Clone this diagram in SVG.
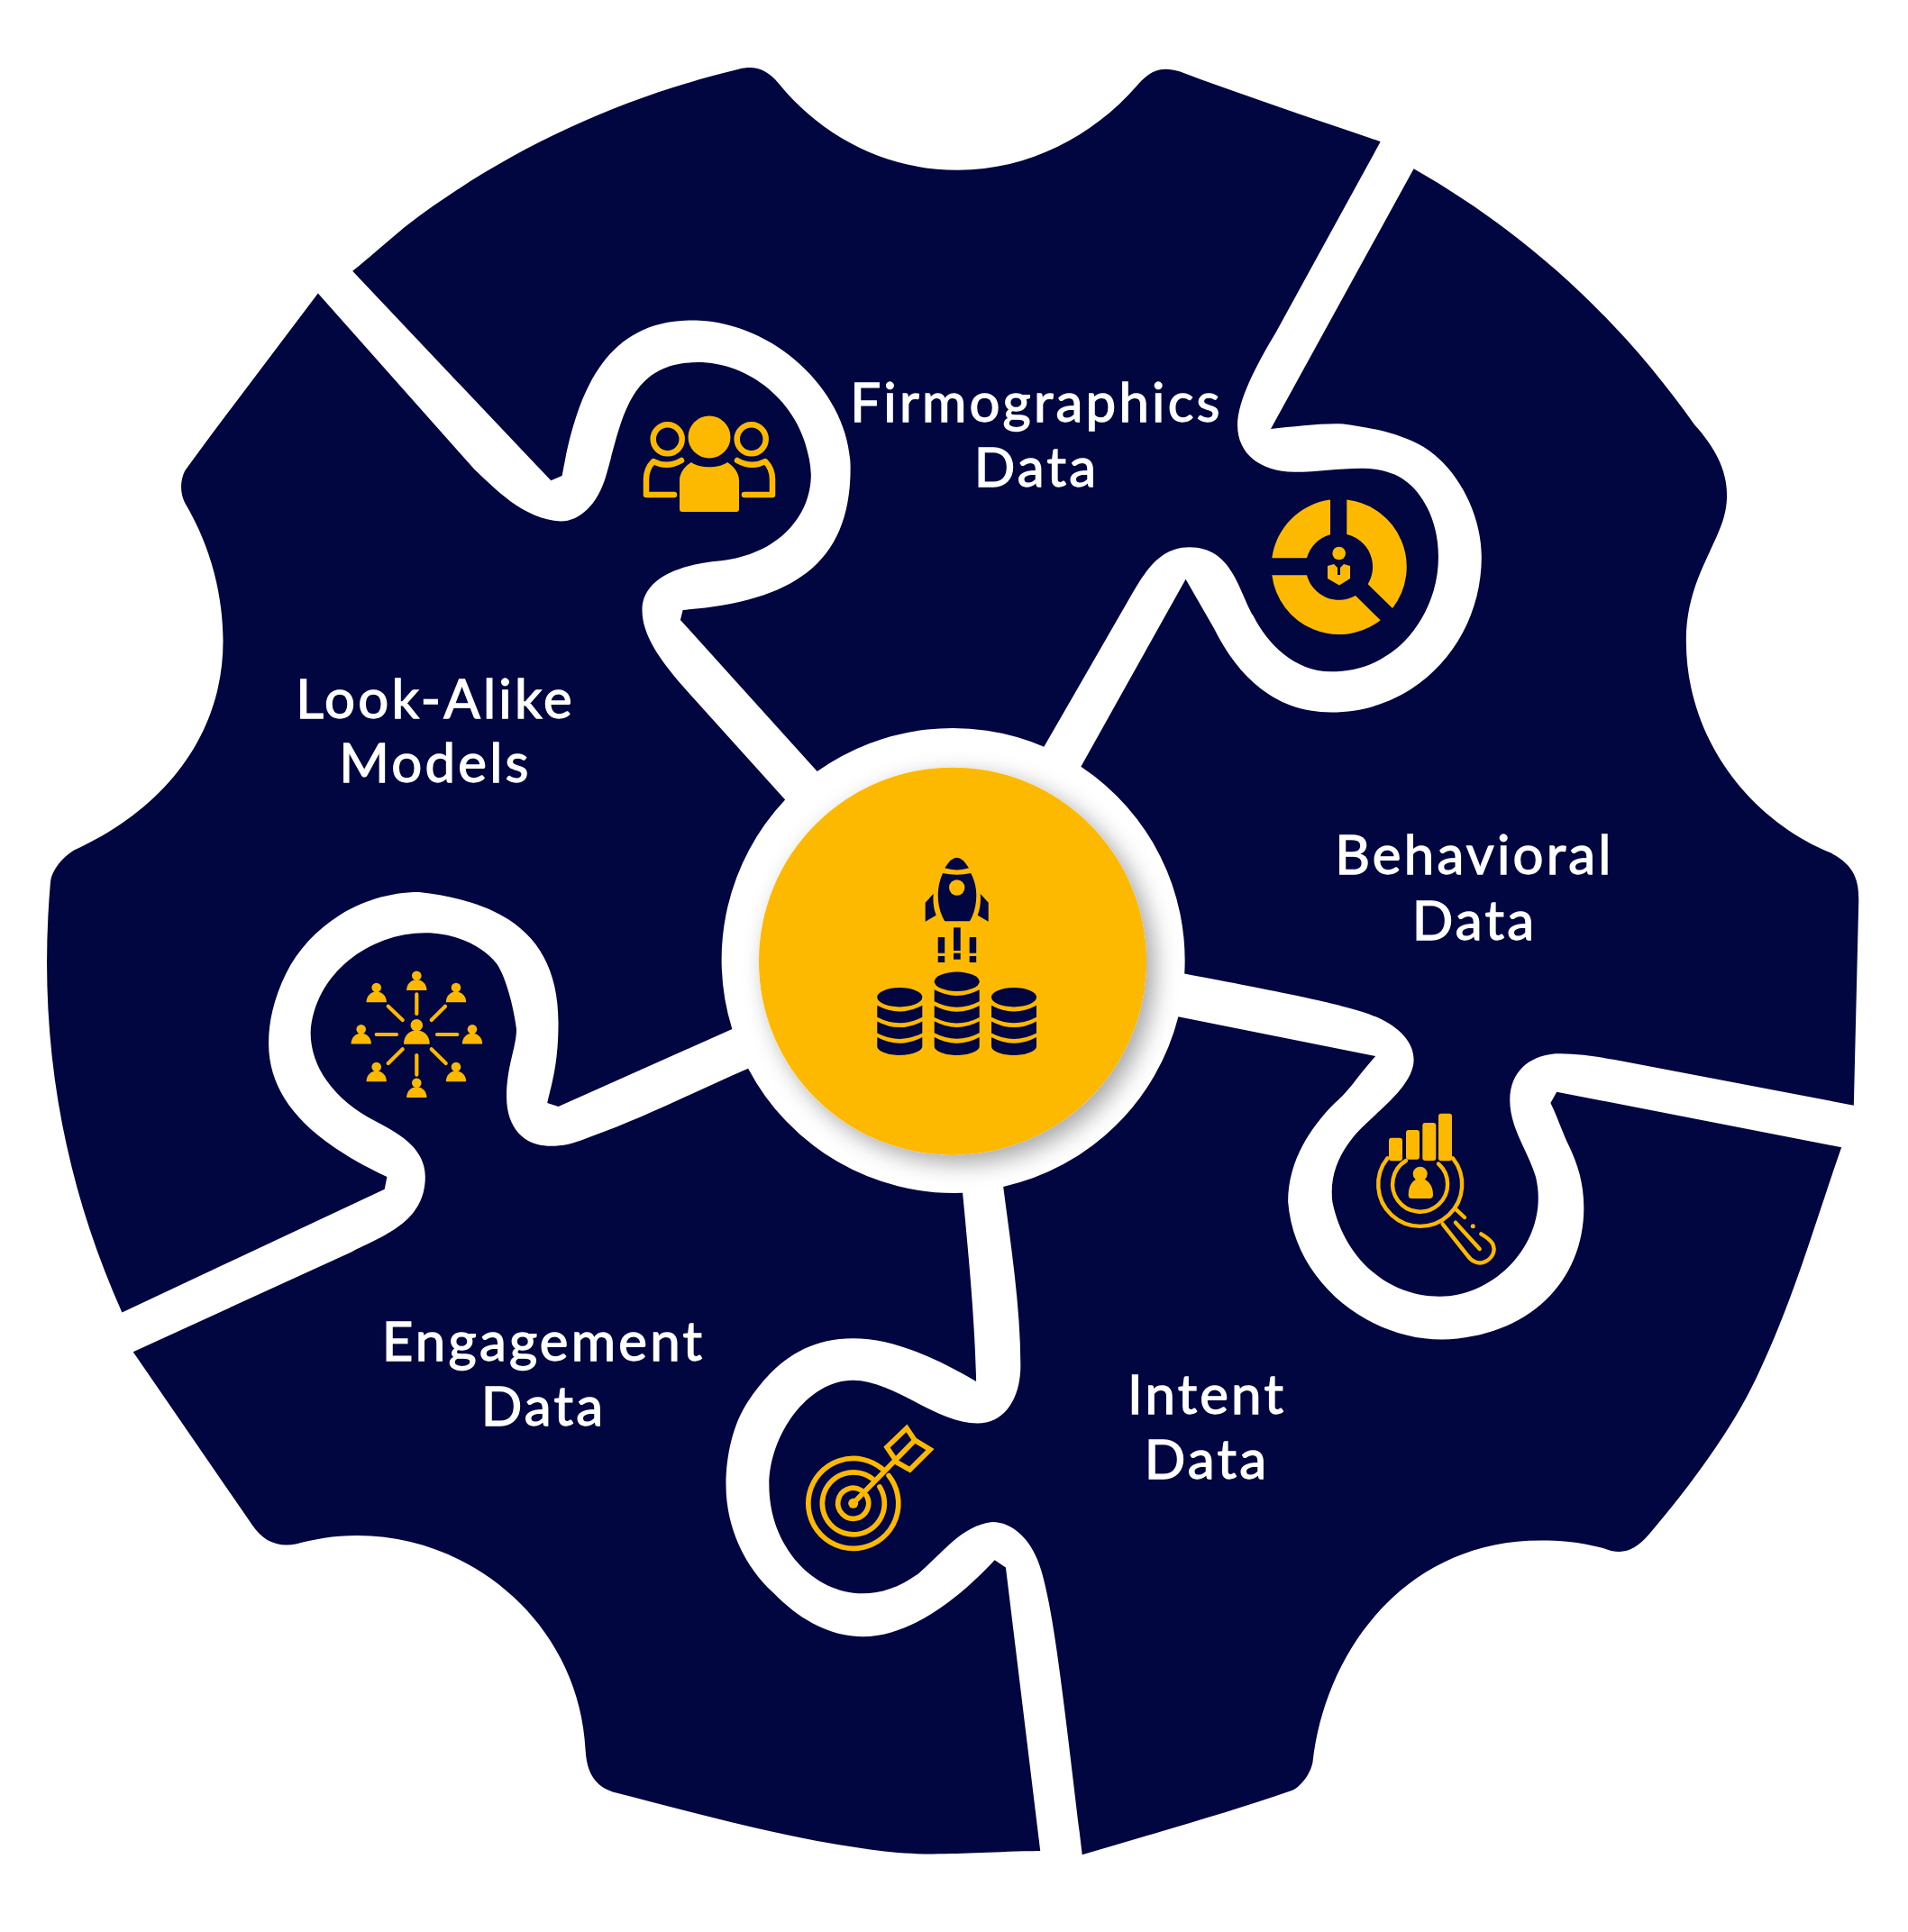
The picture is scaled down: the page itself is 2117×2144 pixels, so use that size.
<svg xmlns="http://www.w3.org/2000/svg" width="2117" height="2144" viewBox="0 0 2117 2144">
<style>
.piece{fill:#010641}
.label{font-family:"Lato","Liberation Sans",sans-serif;font-size:60px;font-weight:400;fill:#fff;stroke:#fff;stroke-width:1.3px;text-anchor:middle;letter-spacing:3.2px}
.y{fill:#fdb900}
.n{fill:#010641}
.ys{fill:none;stroke:#fdb900;stroke-width:5.7;stroke-linecap:round;stroke-linejoin:miter}
</style>
<defs>
<filter id="sh" x="-20%" y="-20%" width="150%" height="150%"><feDropShadow dx="9" dy="9" stdDeviation="13" flood-color="#000" flood-opacity="0.35"/></filter>
<path id="band" d="M-25,0Q0,13.4 25,0V13Q0,26 -25,13Z"/>
<path id="bandb" d="M-25,0Q0,13.4 25,0V10C25,16 12,20 0,20C-12,20 -25,16 -25,10Z"/>
<g id="p"><circle cx="0" cy="0" r="5.3"/><path d="M-11.2,16.3C-11.2,9 -6,4.5 0,4.5C6,4.5 11.2,9 11.2,16.3Z"/></g>
</defs>
<rect width="2117" height="2144" fill="#fff"/>

<g id="node-firmographics">
<path class="piece" transform="scale(1.36757)" d="M286,220C300,209 315,195 330,183C410,122 500,80 600,56C612,53 622,56 632,68C668,112 720,138 777,138C835,138 887,110 922,70C934,56 943,54 957,58C1010,78 1065,96 1120,115L1035,270C1020,295 1004,325 1004,345C1004,370 1025,383 1050,383C1070,383 1085,380 1105,380C1130,380 1147,390 1158,412C1163,422 1167,435 1167,452C1167,490 1145,520 1125,532C1110,542 1095,545 1080,545C1050,545 1028,522 1017,500C1005,480 1000,444 965,444C940,444 928,465 915,488L847,606A189,189 0 0 0 663,626L552,503L554,495C640,488 690,460 690,380C690,320 630,262 565,260C490,258 468,320 456,386L447,390Z"/>
<text class="label" x="1150" y="468">Firmographics</text>
<text class="label" x="1150" y="540">Data</text>
<g class="y">
<path d="M1476,554.6A75,75 0 0 0 1411.3,619.3H1450A37,37 0 0 1 1476,593.3Z"/>
<path d="M1494.3,554.5A75,75 0 0 1 1545,675L1517.7,648.3A37,37 0 0 0 1494.3,593Z"/>
<path d="M1411.3,638.3A75,75 0 0 0 1531.7,688.3L1504,661A37,37 0 0 1 1450,638.3Z"/>
<circle cx="1485.7" cy="614" r="7.3"/>
<path d="M1473,628L1480,626L1484,630V638H1487V630L1491,626L1498,628V642L1486,649.5L1473,642Z"/>
</g>
</g>

<g id="node-lookalike">
<path class="piece" transform="scale(1.36757)" d="M258,238C222,286 185,334 150,382C146,390 146,400 150,408C172,445 181,485 181,520C181,595 135,656 60,690C50,696 42,707 41,715C30,840 50,955 99,1065L312,965L314,955C250,925 217,890 218,845C218,830 222,810 232,790C252,750 295,724 340,724C410,732 453,760 453,830C453,860 449,875 444,895L453,898L594,835A189,189 0 0 1 637,649L555,558C535,535 521,515 521,495C521,470 550,458 585,455C630,450 658,420 658,385C655,330 610,294 566,294C510,294 505,340 492,385C485,410 470,423 455,423C425,422 400,395 385,381Z"/>
<text class="label" x="483" y="797">Look-Alike</text>
<text class="label" x="483" y="868">Models</text>
<g class="y">
<circle cx="787" cy="485" r="23.5"/>
<path d="M754,565V533C754,525 760,517 767,513C776,520 798,520 807,513C814,517 820,525 820,533V565Q820,568 817,568H757Q754,568 754,565Z"/>
</g>
<g class="ys" style="stroke-width:6.5">
<circle cx="740.7" cy="487.3" r="16"/><circle cx="833.7" cy="487.3" r="16"/>
<path stroke-linejoin="round" d="M756,511Q740,520 725,512Q717,520 717,532V549H748M818,511Q834,520 849,512Q857,520 857,532V549H826"/>
</g>
</g>

<g id="node-engagement">
<path class="piece" transform="scale(1.36757)" d="M108,1097L285,1016C310,1003 345,992 345,955C345,930 320,918 305,910C270,892 252,865 252,838C255,790 300,757 345,757C370,757 392,768 403,782C412,795 418,825 419,835C419,850 411,865 411,890C411,915 425,930 447,930C460,930 470,926 480,922C525,906 565,885 607,867A189,189 0 0 0 781,968C785,1010 791,1070 792,1121C760,1102 725,1086 692,1086C650,1086 625,1110 607,1137C595,1155 589,1180 589,1205C589,1240 605,1272 627,1292C650,1316 675,1328 700,1328C740,1328 780,1295 807,1266L816,1272L844,1502C780,1503 750,1508 700,1500C630,1490 560,1470 497,1454C480,1448 476,1435 475,1420C470,1320 385,1246 290,1246C270,1246 255,1249 240,1253C225,1256 213,1250 205,1238Z"/>
<text class="label" x="603" y="1510">Engagement</text>
<text class="label" x="603" y="1582">Data</text>
<g class="y">
<use href="#p" x="462.3" y="1082.7"/><use href="#p" x="417.7" y="1096"/><use href="#p" x="506" y="1096"/><use href="#p" x="400.7" y="1142.3"/><use href="#p" x="524" y="1142.3"/><use href="#p" x="417.7" y="1184"/><use href="#p" x="506" y="1184"/><use href="#p" x="462.3" y="1201.7"/>
<circle cx="462.3" cy="1137.7" r="6.8"/><path d="M448,1158.7C448,1149 454,1143.5 462.3,1143.5C470.5,1143.5 476.7,1149 476.7,1158.7Z"/>
</g>
<path class="ys" style="stroke-width:4.2" d="M462.3,1103.3V1125M462.3,1171V1192.7M417.7,1148H440M485,1148H507.3M430.7,1116.7L446.7,1132M494,1116.7L478.7,1132M446.7,1164.3L430.7,1180M478.7,1164.3L494.7,1180"/>
</g>

<g id="node-intent">
<path class="piece" transform="scale(1.36757)" d="M1494,931C1470,1000 1455,1055 1425,1118C1405,1160 1372,1205 1338,1245C1325,1260 1315,1262 1300,1256C1280,1251 1265,1250 1250,1250C1140,1250 1075,1340 1065,1430C1063,1440 1055,1450 1048,1453C990,1473 935,1488 878,1505C862,1370 855,1310 845,1275C838,1250 822,1235 805,1235C780,1238 765,1260 745,1277C730,1288 715,1293 700,1293C660,1293 624,1255 624,1205C624,1165 655,1120 692,1120C725,1120 760,1155 793,1155C815,1155 828,1135 828,1108C828,1060 820,1010 814,963A189,189 0 0 0 956,825L1116,857C1100,875 1095,885 1083,895C1060,918 1045,945 1045,975C1050,1040 1110,1087 1170,1087C1240,1085 1285,1040 1285,980C1285,960 1280,945 1273,930C1268,920 1263,905 1258,895L1263,886Z"/>
<text class="label" x="1339" y="1569">Intent</text>
<text class="label" x="1339" y="1641">Data</text>
<g class="ys">
<path d="M978.8,1630A50,50 0 1 0 986.1,1637.5"/>
<path d="M967.9,1641.1A34.5,34.5 0 1 0 976,1650"/>
<path d="M955.2,1653.6A17,17 0 1 0 961.4,1659.8"/>
<path d="M946.7,1668.3L1015,1598.3"/>
<path d="M984,1606L1006,1585L1015,1598.3L1032,1608.5L1009.5,1631L995.5,1623Z"/>
</g>
<circle class="y" cx="946.7" cy="1668.3" r="5.5"/>
</g>

<g id="node-behavioral">
<path class="piece" transform="scale(1.36757)" d="M1147,137C1240,190 1315,260 1375,345C1395,367 1410,395 1395,430C1385,455 1368,480 1368,520C1368,600 1420,665 1485,692C1505,702 1508,715 1508,730L1504,897L1310,860C1290,856 1275,855 1262,855C1240,857 1225,870 1225,893C1225,915 1240,935 1246,955C1258,1005 1215,1052 1168,1052C1125,1052 1090,1020 1081,975C1078,950 1090,930 1105,915C1120,900 1147,880 1147,860C1147,840 1125,827 1105,821C1080,813 1040,805 961,790A189,189 0 0 0 877,622L962,470L985,510C1005,550 1035,578 1080,578C1150,578 1202,520 1202,452C1202,415 1180,375 1150,360C1130,350 1110,347 1090,344C1075,343 1050,346 1031,348Z"/>
<text class="label" x="1636" y="970">Behavioral</text>
<text class="label" x="1636" y="1043">Data</text>
<g class="ys" style="stroke-width:4.4">
<path d="M1539.4,1285.3A46.5,46.5 0 1 0 1612,1285.3"/>
<path d="M1560,1288A30.5,30.5 0 1 0 1596,1291.5"/>
<path d="M1600.7,1358.3L1628.3,1393.3C1632,1399 1640,1404 1648,1400C1656,1396 1660,1388 1656,1380C1653,1375 1648,1372 1643.3,1369.3M1615,1356.7L1641.7,1386M1616,1342.7L1625,1351"/>
</g>
<g class="y">
<circle cx="1634.3" cy="1360.7" r="2.5"/>
<circle cx="1575.7" cy="1302.7" r="8"/>
<path d="M1562.7,1326C1562.7,1315 1568,1308 1575.7,1308C1584,1308 1590,1315 1590,1326Q1590,1330 1586,1330H1566Q1562.7,1330 1562.7,1326Z"/>
<rect x="1541" y="1262.7" width="15" height="25.6" rx="3"/>
<rect x="1560" y="1254" width="15" height="32.7" rx="3"/>
<rect x="1578.3" y="1246" width="15" height="42" rx="3"/>
<rect x="1596" y="1235.7" width="15" height="52.6" rx="3"/>
</g>
</g>

<g id="node-center">
<circle cx="1057" cy="1066.7" r="215" fill="#fdb900" filter="url(#sh)"/>
<g class="n">
<path d="M1048.3,963.3Q1055,951.7 1061.7,951.7Q1068,951.7 1075,963.3Q1061.7,967.5 1048.3,963.3Z"/>
<path d="M1046,969Q1061.7,972.5 1077.3,969Q1083.3,981 1083.3,993.3Q1083.3,1010 1076,1022.3H1048.3Q1040.7,1010 1040.7,993.3Q1040.7,981 1046,969Z"/>
<path d="M1035.7,991.7Q1034.5,1005 1038.7,1015.7L1026.7,1022.7V1001.7Z"/>
<path d="M1087.7,991.7Q1088.9,1005 1084.7,1015.7L1096.7,1022.7V1001.7Z"/>
<rect x="1058" y="1029.3" width="7.7" height="25.7"/><rect x="1058" y="1057.7" width="7.7" height="7"/>
<rect x="1040.7" y="1040" width="7.5" height="17.7"/><rect x="1040.7" y="1061" width="7.5" height="7"/>
<rect x="1075.7" y="1040" width="7.5" height="17.7"/><rect x="1075.7" y="1061" width="7.5" height="7"/>
<g transform="translate(1061.7,1089.3)"><ellipse rx="25" ry="10.7"/><use href="#band" y="9"/><use href="#band" y="26.7"/><use href="#band" y="44"/><use href="#bandb" y="61.7"/></g>
<g transform="translate(998.3,1106.7)"><ellipse rx="25" ry="10.7"/><use href="#band" y="9"/><use href="#band" y="26.7"/><use href="#bandb" y="44.3"/></g>
<g transform="translate(1125,1106.7)"><ellipse rx="25" ry="10.7"/><use href="#band" y="9"/><use href="#band" y="26.7"/><use href="#bandb" y="44.3"/></g>
</g>
<circle class="y" cx="1061.7" cy="985" r="8.7"/>
</g>
</svg>
